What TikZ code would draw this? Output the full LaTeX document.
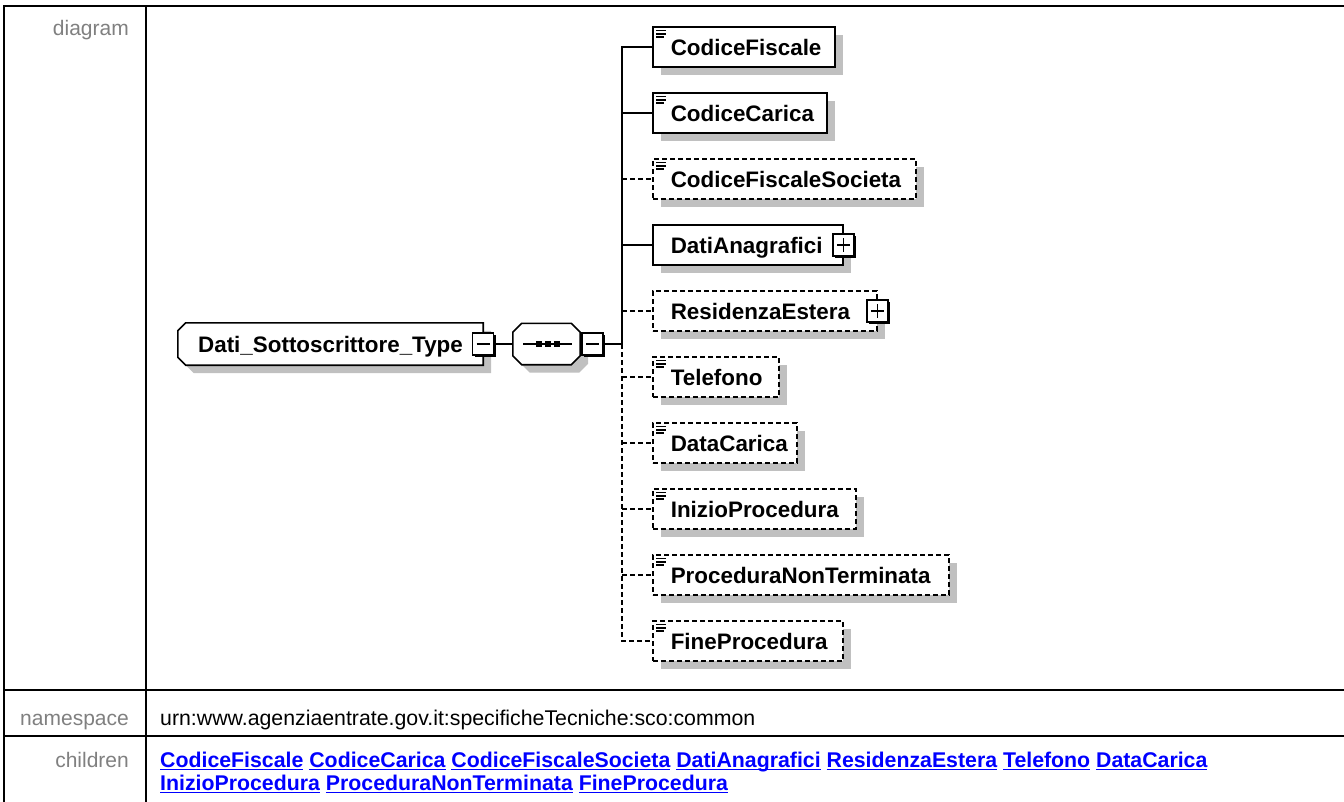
\documentclass[tikz,border=0pt]{standalone}
\usepackage{fontspec}
\setmainfont{Liberation Sans}
\usetikzlibrary{shadows,calc,backgrounds}
\definecolor{lblgrey}{HTML}{808080}
\definecolor{shadowgrey}{HTML}{C0C0C0}
\definecolor{linkblue}{HTML}{0000FF}
\newsavebox{\lnkbox}
\newcommand{\lnk}[1]{\sbox{\lnkbox}{#1}\rlap{\rule[-3.2pt]{\wd\lnkbox}{1.6pt}}\usebox{\lnkbox}}
\begin{document}
\begin{tikzpicture}[x=1pt,y=-1pt,
  greyshadow/.style={general shadow={shadow xshift=8pt,shadow yshift=-8pt,fill=shadowgrey}},
  elem/.style={draw,line width=1.6pt,fill=white,greyshadow,minimum height=40pt,
    inner xsep=0pt,inner ysep=0pt,anchor=west,align=left,text height=16pt,text depth=0pt,
    font=\fontsize{22.4}{26}\selectfont\bfseries},
  opt/.style={dash pattern=on 5pt off 3pt},
  icon/.style={path picture={
    \draw[solid,line width=1.5pt] ([shift={(3.5pt,-3.6pt)}]path picture bounding box.north west) -- ++(10pt,0pt);
    \draw[solid,line width=1.5pt] ([shift={(3.5pt,-6.8pt)}]path picture bounding box.north west) -- ++(10pt,0pt);
    \draw[solid,line width=1.5pt] ([shift={(3.5pt,-10pt)}]path picture bounding box.north west) -- ++(8pt,0pt);}},
  pmbox/.style={draw,fill=white,line width=1.4pt,minimum width=21pt,minimum height=22pt,inner sep=0pt,
    general shadow={shadow xshift=2pt,shadow yshift=-2pt,fill=black}},
  minus/.style={pmbox,path picture={
    \draw[line width=1.4pt] ([xshift=4pt]path picture bounding box.west) -- ([xshift=-4pt]path picture bounding box.east);}},
  plus/.style={pmbox,path picture={
    \draw[line width=1.4pt] ([xshift=4pt]path picture bounding box.west) -- ([xshift=-4pt]path picture bounding box.east);
    \draw[line width=1.4pt] ([yshift=-4pt]path picture bounding box.north) -- ([yshift=4pt]path picture bounding box.south);}},
  conn/.style={line width=1.6pt},
  frame/.style={line width=1.6pt},
  tbl/.style={line width=2.5pt},
  lbl/.style={text=lblgrey,font=\fontsize{21}{24}\selectfont,inner sep=0pt},
  txt/.style={font=\fontsize{21.3}{24}\selectfont,inner sep=0pt},
  links/.style={text=linkblue,font=\fontsize{21.3}{24}\selectfont\bfseries,inner sep=0pt}
]
\useasboundingbox (0,0) rectangle (1344,801);

% table frame
\draw[tbl] (4,6) rectangle (1370,830);
\draw[tbl] (146,6) -- (146,830);
\draw[tbl] (4,690) -- (1370,690);
\draw[tbl] (4,736) -- (1370,736);

% row labels
\node[lbl,anchor=base east] (ldiag) at (129,35) {diagram};
\node[lbl,anchor=base east] (lns) at (129,725) {namespace};
\node[lbl,anchor=base east] (lch) at (129,767) {children};
\node[txt,anchor=base west] (ns) at (160,725) {urn:www.agenziaentrate.gov.it:specificheTecniche:sco:common};
\node[links,anchor=base west] (ch1) at (160,767) {\lnk{CodiceFiscale} \lnk{CodiceCarica} \lnk{CodiceFiscaleSocieta} \lnk{DatiAnagrafici} \lnk{ResidenzaEstera} \lnk{Telefono} \lnk{DataCarica}};
\node[links,anchor=base west] (ch2) at (160,790) {\lnk{InizioProcedura} \lnk{ProceduraNonTerminata} \lnk{FineProcedura}};

% root (outline drawn on background layer)
\node[rectangle,minimum width=305pt,minimum height=42pt,inner sep=0pt,text height=16pt,text depth=0pt,
  font=\fontsize{22.4}{26}\selectfont\bfseries] (root) at (330.5,344) {Dati\_Sottoscrittore\_Type\hspace{15pt}};
\node[minus] (rootpm) at (483,344) {};

% sequence
\node[rectangle,minimum width=67pt,minimum height=41pt,inner sep=0pt] (seq) at (546.5,344) {};
\node[minus] (seqpm) at (592.5,344) {};
\coordinate (trunk) at (622,344);

\begin{scope}[on background layer]
\fill[white] (0,0) rectangle (1344,801);
\fill[shadowgrey] ($(root.north west)+(16,8)$) -- ($(root.north east)+(8,8)$) -- ($(root.south east)+(8,8)$)
  -- ($(root.south west)+(16,8)$) -- ($(root.south west)+(8,0)$) -- ($(root.north west)+(8,16)$) -- cycle;
\draw[frame,fill=white] ($(root.north west)+(8,0)$) -- (root.north east) -- (root.south east)
  -- ($(root.south west)+(8,0)$) -- ($(root.south west)+(0,-8)$) -- ($(root.north west)+(0,8)$) -- cycle;
\fill[shadowgrey] ($(seq.north west)+(17,8)$) -- ($(seq.north east)+(-1,8)$) -- ($(seq.north east)+(8,17)$)
  -- ($(seq.south east)+(8,-1)$) -- ($(seq.south east)+(-1,8)$) -- ($(seq.south west)+(17,8)$)
  -- ($(seq.south west)+(8,-1)$) -- ($(seq.north west)+(8,17)$) -- cycle;
\draw[frame,fill=white] ($(seq.north west)+(9,0)$) -- ($(seq.north east)+(-9,0)$) -- ($(seq.north east)+(0,9)$)
  -- ($(seq.south east)+(0,-9)$) -- ($(seq.south east)+(-9,0)$) -- ($(seq.south west)+(9,0)$)
  -- ($(seq.south west)+(0,-9)$) -- ($(seq.north west)+(0,9)$) -- cycle;
\end{scope}
\draw[line width=1.4pt] ($(seq.center)+(-23.5,0)$) -- ($(seq.center)+(25.5,0)$);
\foreach \dx in {-8,1.5,10.5} \fill ($(seq.center)+(\dx-3,-3)$) rectangle ++(6,6);

% children
\node[elem,icon,text width=182pt] (c1) at (652,47) {\hspace*{18pt}CodiceFiscale};
\node[elem,icon,text width=174pt] (c2) at (652,113) {\hspace*{18pt}CodiceCarica};
\node[elem,icon,opt,text width=263pt] (c3) at (652,179) {\hspace*{18pt}CodiceFiscaleSocieta};
\node[elem,text width=190pt] (c4) at (652,245) {\hspace*{18pt}DatiAnagrafici};
\node[elem,opt,text width=224pt] (c5) at (652,311) {\hspace*{18pt}ResidenzaEstera};
\node[elem,icon,opt,text width=126pt] (c6) at (652,377) {\hspace*{18pt}Telefono};
\node[elem,icon,opt,text width=144pt] (c7) at (652,443) {\hspace*{18pt}DataCarica};
\node[elem,icon,opt,text width=203pt] (c8) at (652,509) {\hspace*{18pt}InizioProcedura};
\node[elem,icon,opt,text width=296pt] (c9) at (652,575) {\hspace*{18pt}ProceduraNonTerminata};
\node[elem,icon,opt,text width=190pt] (c10) at (652,641) {\hspace*{18pt}FineProcedura};
\node[plus] (c4pm) at (c4.east) {};
\node[plus] (c5pm) at (c5.east) {};

% connectors
\draw[conn] (rootpm.east) -- (seq.west);
\draw[conn] (seqpm.east) -- (trunk);
\draw[conn] (trunk) -- (trunk |- c1.west) -- (c1.west);
\draw[conn,opt] (trunk) -- (trunk |- c10.west) -- (c10.west);
\draw[conn] (trunk |- c2.west) -- (c2.west);
\draw[conn,opt] (trunk |- c3.west) -- (c3.west);
\draw[conn] (trunk |- c4.west) -- (c4.west);
\draw[conn,opt] (trunk |- c5.west) -- (c5.west);
\draw[conn,opt] (trunk |- c6.west) -- (c6.west);
\draw[conn,opt] (trunk |- c7.west) -- (c7.west);
\draw[conn,opt] (trunk |- c8.west) -- (c8.west);
\draw[conn,opt] (trunk |- c9.west) -- (c9.west);
\end{tikzpicture}
\end{document}
